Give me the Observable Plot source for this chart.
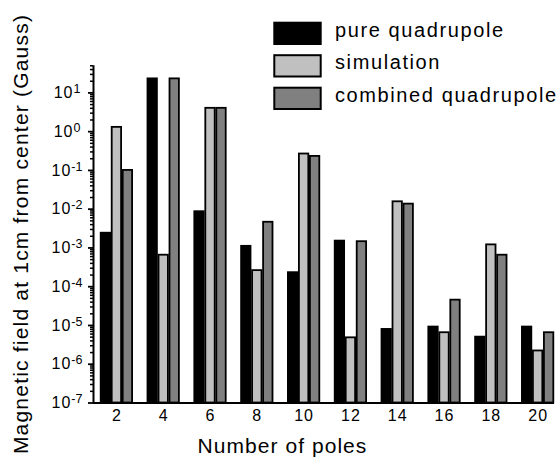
<!DOCTYPE html>
<html>
<head>
<meta charset="utf-8">
<script src="https://cdn.jsdelivr.net/npm/d3@7"></script>
<script src="https://cdn.jsdelivr.net/npm/@observablehq/plot@0.6"></script>
<style>
  html, body { margin: 0; padding: 0; background: white; }
  #chart { width: 560px; height: 458px; }
</style>
</head>
<body>
<div id="chart"></div>
<script>
const poles = [2, 4, 6, 8, 10, 12, 14, 16, 18, 20];
const seriesNames = ["pure quadrupole", "simulation", "combined quadrupole"];
const seriesColors = ["#000000", "#c0c0c0", "#808080"];
const pureQuadrupole     = [2.4e-3, 23, 8.6e-3, 1.1e-3, 2.3e-4, 1.5e-3, 7.9e-6, 9.1e-6, 5.0e-6, 9.1e-6];
const simulation         = [1.29, 6.5e-4, 4.0, 2.6e-4, 0.265, 4.8e-6, 0.0155, 6.5e-6, 1.2e-3, 2.2e-6];
const combinedQuadrupole = [0.1, 23, 4.0, 4.6e-3, 0.23, 1.45e-3, 0.0135, 4.5e-5, 6.5e-4, 6.5e-6];
const yMajorTicks = [1e-7, 1e-6, 1e-5, 1e-4, 1e-3, 1e-2, 1e-1, 1e0, 1e1];
const xTickLabels = poles;
const xTitle = "Number of poles";
const yTitle = "Magnetic field at 1cm from center (Gauss)";

const seriesValues = [pureQuadrupole, simulation, combinedQuadrupole];
const table = poles.flatMap((p, i) =>
  seriesNames.map((s, j) => ({poles: p, series: s, index: j, value: seriesValues[j][i]}))
);

const yMinorTicks = [];
for (const dec of yMajorTicks) for (let k = 2; k <= 9; k++) {
  const v = dec * k;
  if (v <= 50) yMinorTicks.push(v);
}

const barW = 0.47;
const baseValue = 1e-7;
const font = "'Liberation Sans', Arial, Helvetica, sans-serif";

const svg = Plot.plot({
  width: 560,
  height: 458,
  marginLeft: 93,
  marginRight: 6,
  marginTop: 65.3,
  marginBottom: 55.5,
  style: {fontFamily: font, background: "white", color: "black"},
  x: {type: "linear", domain: [1, 20.7]},
  y: {type: "log", domain: [1e-7, 50]},
  color: {domain: seriesNames, range: seriesColors},
  marks: [
    Plot.rectY(table, {
      x1: d => d.poles + (d.index - 1) * barW - barW / 2,
      x2: d => d.poles + (d.index - 1) * barW + barW / 2,
      y1: () => baseValue,
      y2: "value",
      fill: "series",
      stroke: "black",
      strokeWidth: 1.8,
      insetLeft: 0.8,
      insetRight: 0.8
    }),
    Plot.ruleX([1], {strokeWidth: 2}),
    Plot.ruleY([baseValue], {strokeWidth: 2}),
    Plot.axisY(yMinorTicks, {tickSize: 3, tickFormat: () => "", label: null, strokeWidth: 1.5}),
    Plot.axisY(yMajorTicks, {
      tickSize: 5, tickPadding: 21.5, textAnchor: "middle", fontSize: 16, strokeWidth: 1.8,
      tickFormat: d => "10^" + Math.round(Math.log10(d)),
      label: null
    }),
    Plot.axisX(xTickLabels, {
      tickSize: 0, tickPadding: 7, fontSize: 16, label: null
    })
  ]
});

const ns = "http://www.w3.org/2000/svg";
// superscript exponents on y tick labels
svg.querySelectorAll('g[aria-label="y-axis tick label"] text').forEach(t => {
  const s = t.textContent;
  if (!s.includes("^")) return;
  const [b, e] = s.split("^");
  t.textContent = "";
  const t1 = document.createElementNS(ns, "tspan");
  t1.textContent = b;
  t1.setAttribute("letter-spacing", "1");
  const t2 = document.createElementNS(ns, "tspan");
  t2.textContent = e;
  t2.setAttribute("font-size", "12.5");
  t2.setAttribute("dy", "-5");
  t.appendChild(t1);
  t.appendChild(t2);
});
svg.querySelectorAll('g[aria-label="x-axis tick label"] text').forEach(t => {
  t.setAttribute("letter-spacing", "1");
});

const sel = d3.select(svg);
// axis titles
sel.append("text")
  .attr("transform", "translate(28.3,234) rotate(-90)")
  .attr("text-anchor", "middle")
  .attr("font-family", font).attr("font-size", 21).attr("letter-spacing", 1.2)
  .attr("fill", "black")
  .text(yTitle);
sel.append("text")
  .attr("x", 282.5).attr("y", 453)
  .attr("text-anchor", "middle")
  .attr("font-family", font).attr("font-size", 21).attr("letter-spacing", 1.05)
  .attr("fill", "black")
  .text(xTitle);

// legend inside the plot area
const leg = sel.append("g")
  .attr("font-family", font).attr("font-size", 20).attr("letter-spacing", 1.6)
  .attr("text-anchor", "start");
seriesNames.forEach((name, i) => {
  const y0 = 21.7 + i * 32.5;
  leg.append("rect")
    .attr("x", 274.3).attr("y", y0 + 1).attr("width", 46.4).attr("height", 21.3)
    .attr("fill", seriesColors[i]).attr("stroke", "black").attr("stroke-width", 2);
  leg.append("text")
    .attr("x", 335).attr("y", y0 + 15)
    .attr("fill", "black")
    .text(name);
});

document.getElementById("chart").appendChild(svg);
</script>
</body>
</html>
